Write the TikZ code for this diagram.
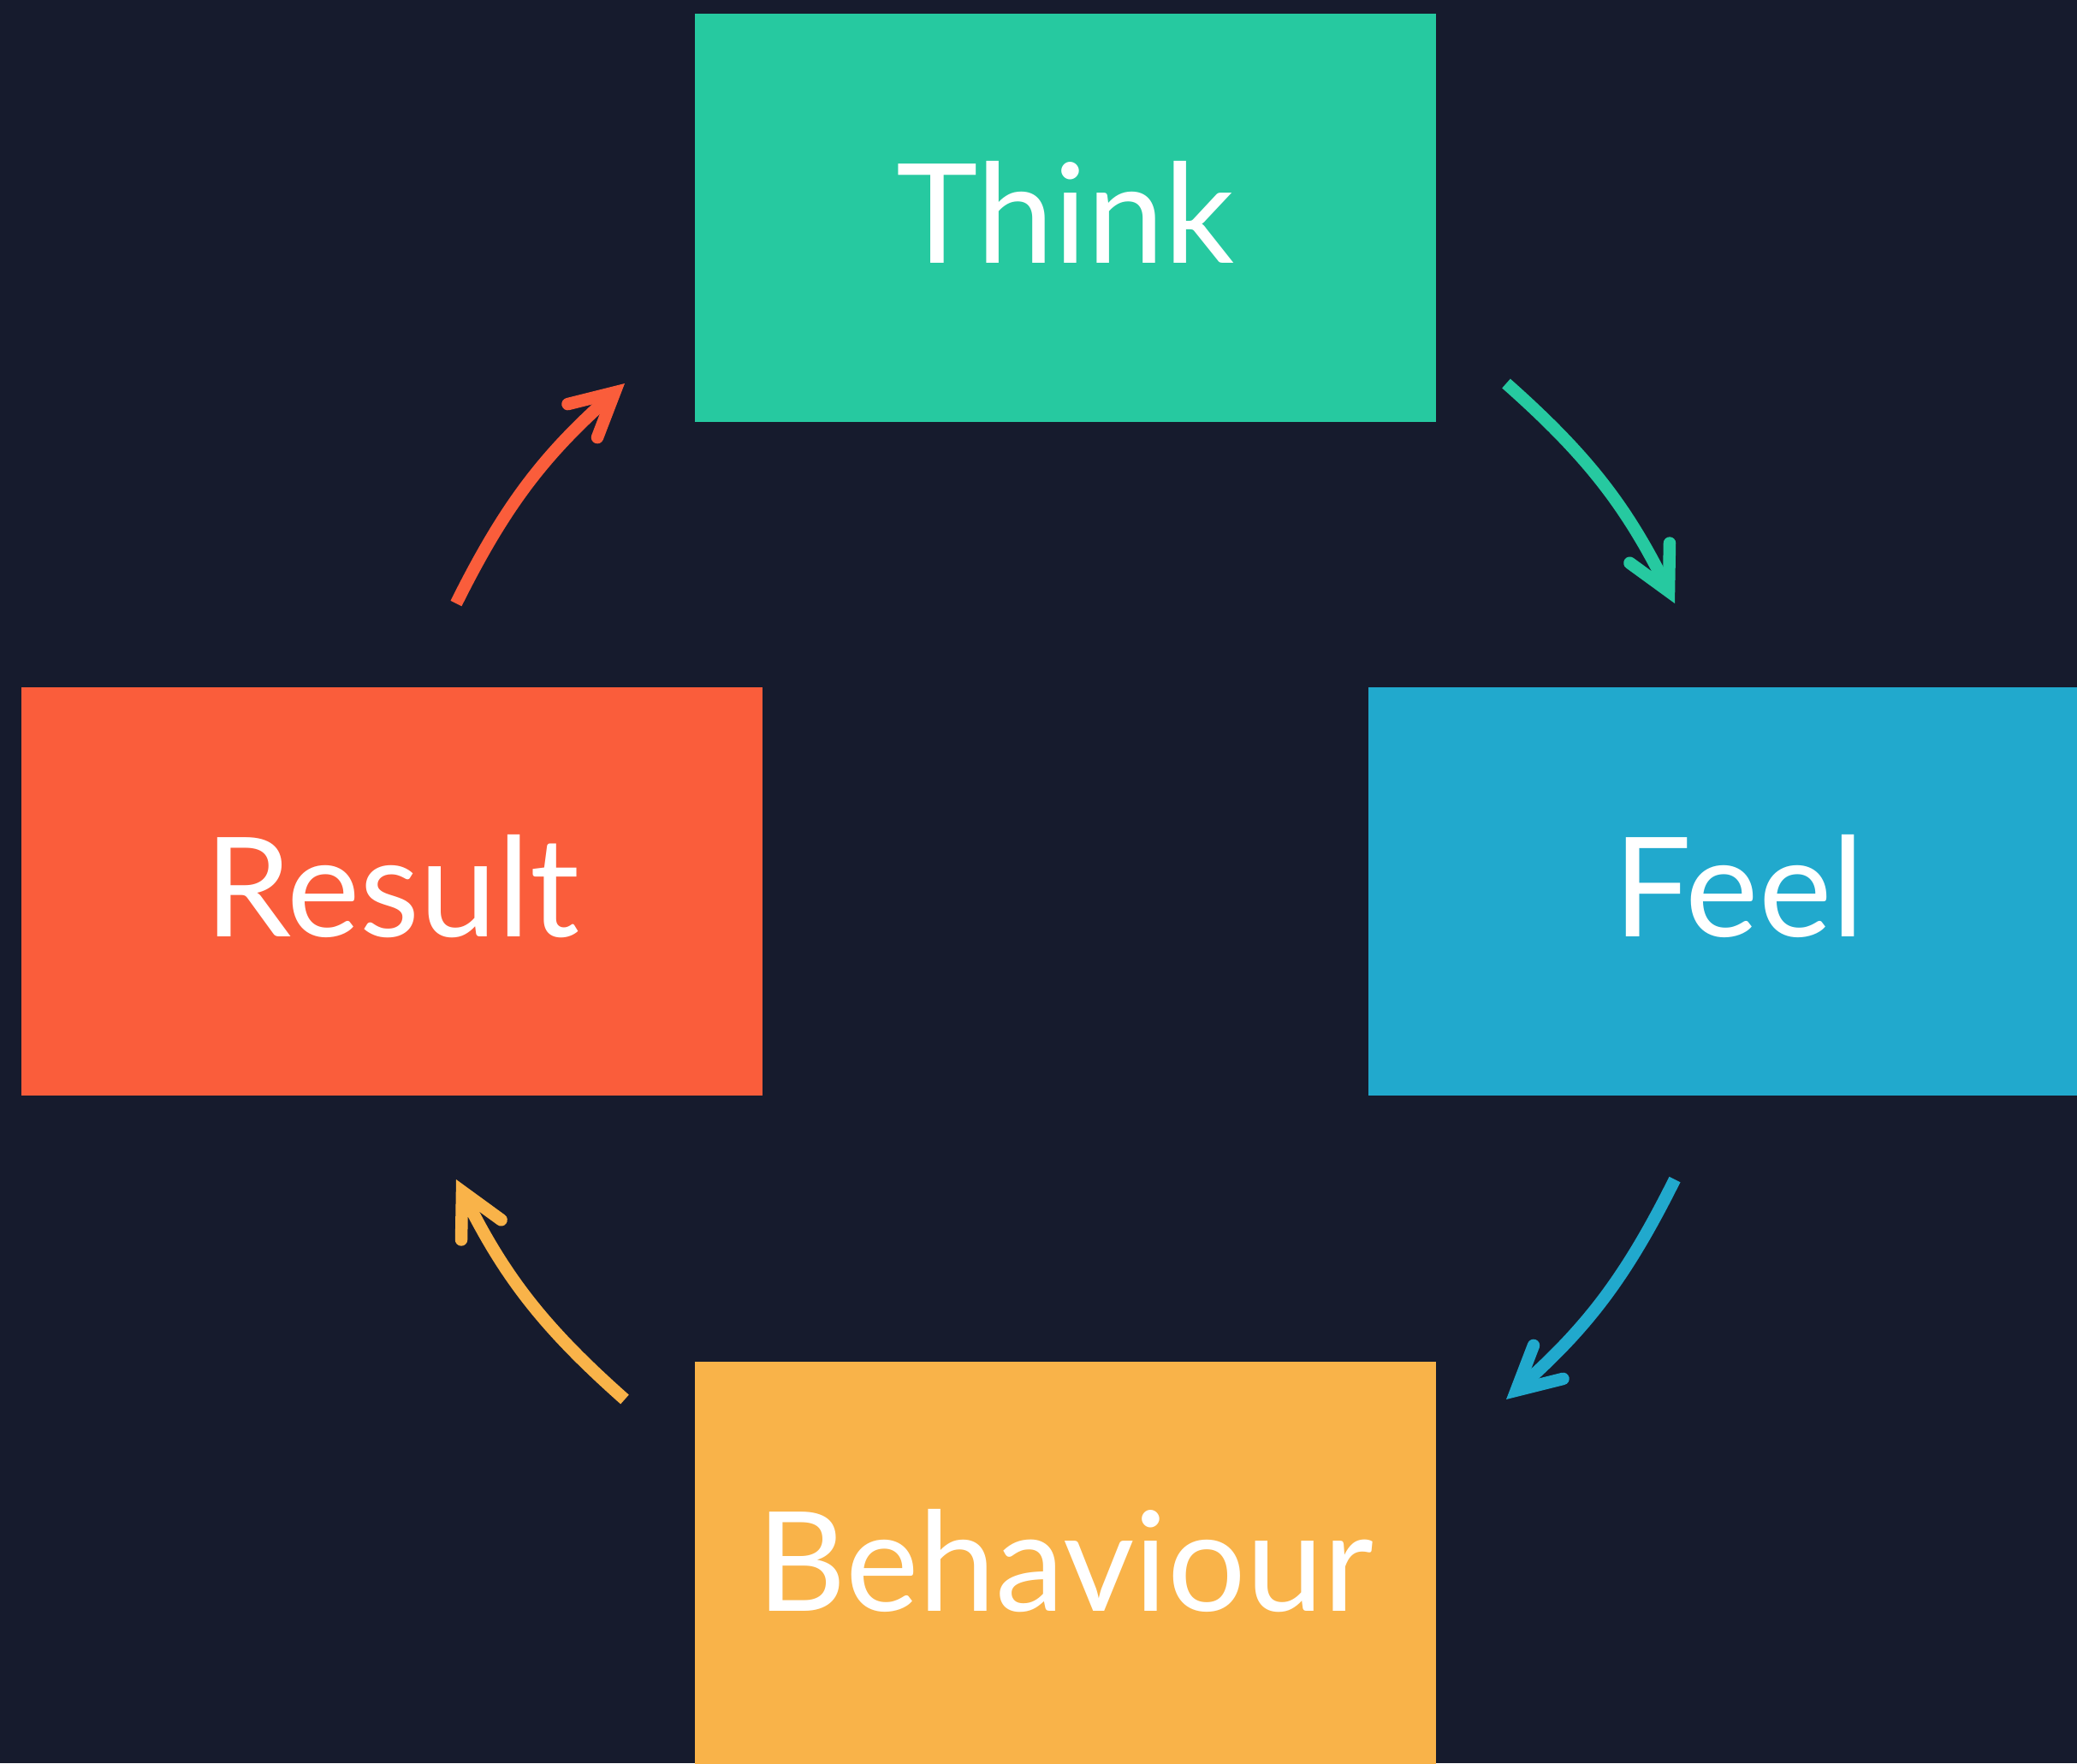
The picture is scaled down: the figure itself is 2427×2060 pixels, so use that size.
\documentclass[tikz,border=0pt]{standalone}
\usepackage{fontspec}
\setmainfont{Lato}
\usetikzlibrary{arrows.meta}

\definecolor{bgnavy}{HTML}{161B2D}
\definecolor{thinkgreen}{HTML}{26C9A0}
\definecolor{feelblue}{HTML}{21A9CD}
\definecolor{resultred}{HTML}{FA5D3B}
\definecolor{behaviouryellow}{HTML}{F9B349}

\tikzset{
  stagebox/.style={
    rectangle, inner sep=0pt, outer sep=0pt,
    minimum width=8.66cm, minimum height=4.77cm,
    text=white, font=\fontsize{46pt}{46pt}\selectfont,
    text height=1.05cm, text depth=0cm
  },
  cyclearrow/.style={
    line width=0.145cm,
    -{Straight Barb[length=0.5cm, width=0.52cm, line cap=round, line join=miter]}
  }
}

\begin{document}
\begin{tikzpicture}[x=0.01cm, y=-0.01cm]
  % canvas
  \useasboundingbox (0,0) rectangle (2427,2060);
  \clip (0,0) rectangle (2427,2060);
  \fill[bgnavy] (0,0) rectangle (2427,2060);

  % the four stages
  \node[stagebox, fill=thinkgreen]      (think)     at (1245,254.5)  {Think};
  \node[stagebox, fill=feelblue]        (feel)      at (2032,1041.5) {Feel};
  \node[stagebox, fill=behaviouryellow] (behaviour) at (1245,1829.5) {Behaviour};
  \node[stagebox, fill=resultred]       (result)    at (458,1041.5)  {Result};

  % arrow end points between the stages
  \coordinate (tf1) at (1760,448);
  \coordinate (tf2) at (1957,705);
  \coordinate (fb1) at (1957,1378);
  \coordinate (fb2) at (1760,1635);
  \coordinate (br1) at (730,1635);
  \coordinate (br2) at (533,1378);
  \coordinate (rt1) at (533,705);
  \coordinate (rt2) at (730,448);

  % the cycle
  \draw[cyclearrow, thinkgreen]      (tf1) to[bend left=11] (tf2);
  \draw[cyclearrow, feelblue]        (fb1) to[bend left=11] (fb2);
  \draw[cyclearrow, behaviouryellow] (br1) to[bend left=11] (br2);
  \draw[cyclearrow, resultred]       (rt1) to[bend left=11] (rt2);
\end{tikzpicture}
\end{document}
